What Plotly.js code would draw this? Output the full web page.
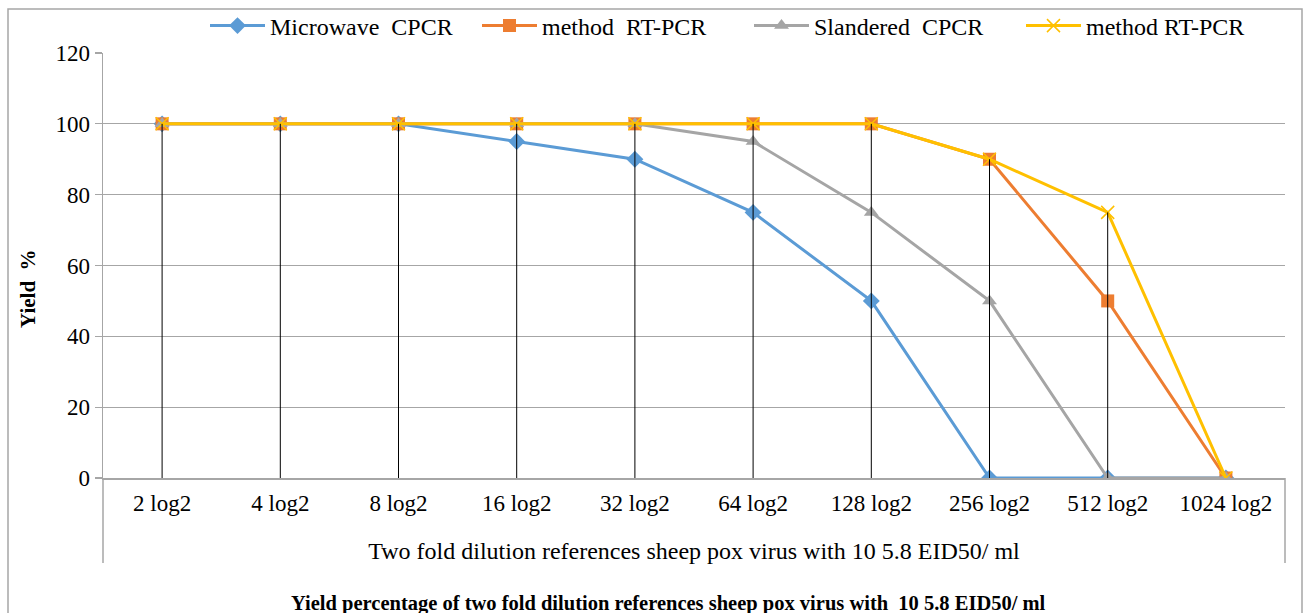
<!DOCTYPE html>
<html>
<head>
<meta charset="utf-8">
<script src="https://cdn.plot.ly/plotly-3.0.1.min.js"></script>
<style>html,body{margin:0;padding:0;background:#fff;}#chart{width:1312px;height:613px;}</style>
</head>
<body>
<div id="chart"></div>
<script>
const categories = ["2 log2","4 log2","8 log2","16 log2","32 log2","64 log2","128 log2","256 log2","512 log2","1024 log2"];
const microwaveCPCR = [100,100,100,95,90,75,50,0,0,0];
const methodRTPCR = [100,100,100,100,100,100,100,90,50,0];
const slanderedCPCR = [100,100,100,100,100,95,75,50,0,0];
const methodRTPCR2 = [100,100,100,100,100,100,100,90,75,0];
const seriesNames = ["Microwave  CPCR","method  RT-PCR","Slandered  CPCR","method RT-PCR"];
const yTickVals = [0,20,40,60,80,100,120];

const FONT = "'Liberation Serif', 'Times New Roman', Times, serif";

// drop lines from each category's highest value down to zero
const allSeries = [microwaveCPCR, methodRTPCR, slanderedCPCR, methodRTPCR2];
const dropX = [], dropY = [];
categories.forEach((c, i) => {
  const m = Math.max(...allSeries.map(s => s[i]));
  if (m > 0) { dropX.push(c, c, null); dropY.push(0, m, null); }
});

const traces = [
  {x: categories, y: microwaveCPCR, name: seriesNames[0], type: 'scatter', mode: 'lines+markers',
   line: {color: '#5B9BD5', width: 3}, marker: {symbol: 'diamond', size: 13, color: '#5B9BD5'}},
  {x: categories, y: methodRTPCR, name: seriesNames[1], type: 'scatter', mode: 'lines+markers',
   line: {color: '#ED7D31', width: 3}, marker: {symbol: 'square', size: 13, color: '#ED7D31'}},
  {x: categories, y: slanderedCPCR, name: seriesNames[2], type: 'scatter', mode: 'lines+markers',
   line: {color: '#A5A5A5', width: 3}, marker: {symbol: 'triangle-up', size: 13, color: '#A5A5A5'}},
  {x: categories, y: methodRTPCR2, name: seriesNames[3], type: 'scatter', mode: 'lines+markers',
   line: {color: '#FFC000', width: 3}, marker: {symbol: 'x-thin', size: 13, color: '#FFC000', line: {color: '#FFC000', width: 1.5}}},
  {x: dropX, y: dropY, type: 'scatter', mode: 'lines', showlegend: false, hoverinfo: 'skip',
   line: {color: '#000000', width: 1}}
];

const L = 103, R = 1285, T = 53, B = 478, W = 1312, H = 613;
const pw = R - L, ph = B - T;
const px = v => (v - L) / pw;
const py = v => (B - v) / ph;

const layout = {
  width: W, height: H,
  margin: {l: L, r: W - R, t: T, b: H - B, autoexpand: false},
  paper_bgcolor: '#ffffff', plot_bgcolor: '#ffffff',
  font: {family: FONT, size: 23, color: '#000'},
  showlegend: true,
  legend: {orientation: 'h', x: px(205), xanchor: 'left', y: py(26), yanchor: 'middle',
           font: {family: FONT, size: 24, color: '#000'}, itemwidth: 55, entrywidth: 202, entrywidthmode: 'pixels',
           traceorder: 'normal', bgcolor: 'rgba(0,0,0,0)'},
  xaxis: {type: 'category', range: [-0.5, categories.length - 0.5], showgrid: false, zeroline: false,
          showline: true, linecolor: '#A6A6A6', linewidth: 1.5, ticks: '', ticklabelstandoff: 4,
          tickfont: {family: FONT, size: 23},
          title: {text: 'Two fold dilution references sheep pox virus with 10 5.8 EID50/ ml', standoff: 27,
                  font: {family: FONT, size: 24}}},
  yaxis: {range: [0, 120], tickvals: yTickVals, showgrid: true, gridcolor: '#A6A6A6', gridwidth: 1.2,
          zeroline: false, showline: true, linecolor: '#A6A6A6', linewidth: 1.5, ticks: 'outside', ticklen: 7,
          tickcolor: '#A6A6A6', tickwidth: 1.2, tickfont: {family: FONT, size: 23}},
  shapes: [
    {type: 'rect', xref: 'paper', yref: 'paper', x0: px(8), x1: px(1302), y0: py(630), y1: py(9),
     line: {color: '#A6A6A6', width: 1.5}, layer: 'below'},
    {type: 'line', xref: 'paper', yref: 'paper', x0: 0, x1: 0, y0: 0, y1: py(563),
     line: {color: '#A6A6A6', width: 1.5}},
    {type: 'line', xref: 'paper', yref: 'paper', x0: 1, x1: 1, y0: 0, y1: py(563),
     line: {color: '#A6A6A6', width: 1.5}}
  ],
  annotations: [
    {text: '<b>Yield  %</b>', textangle: -90, xref: 'paper', yref: 'paper', x: px(28), y: py(289),
     xanchor: 'center', yanchor: 'middle', showarrow: false, font: {family: FONT, size: 21, color: '#000'}},
    {text: '<b>Yield percentage of two fold dilution references sheep pox virus with  10 5.8 EID50/ ml</b>',
     xref: 'paper', yref: 'paper', x: px(668), y: py(603), xanchor: 'center', yanchor: 'middle',
     showarrow: false, font: {family: FONT, size: 20.5, color: '#000'}}
  ]
};

Plotly.newPlot('chart', traces, layout, {displayModeBar: false, staticPlot: true});
</script>
</body>
</html>
